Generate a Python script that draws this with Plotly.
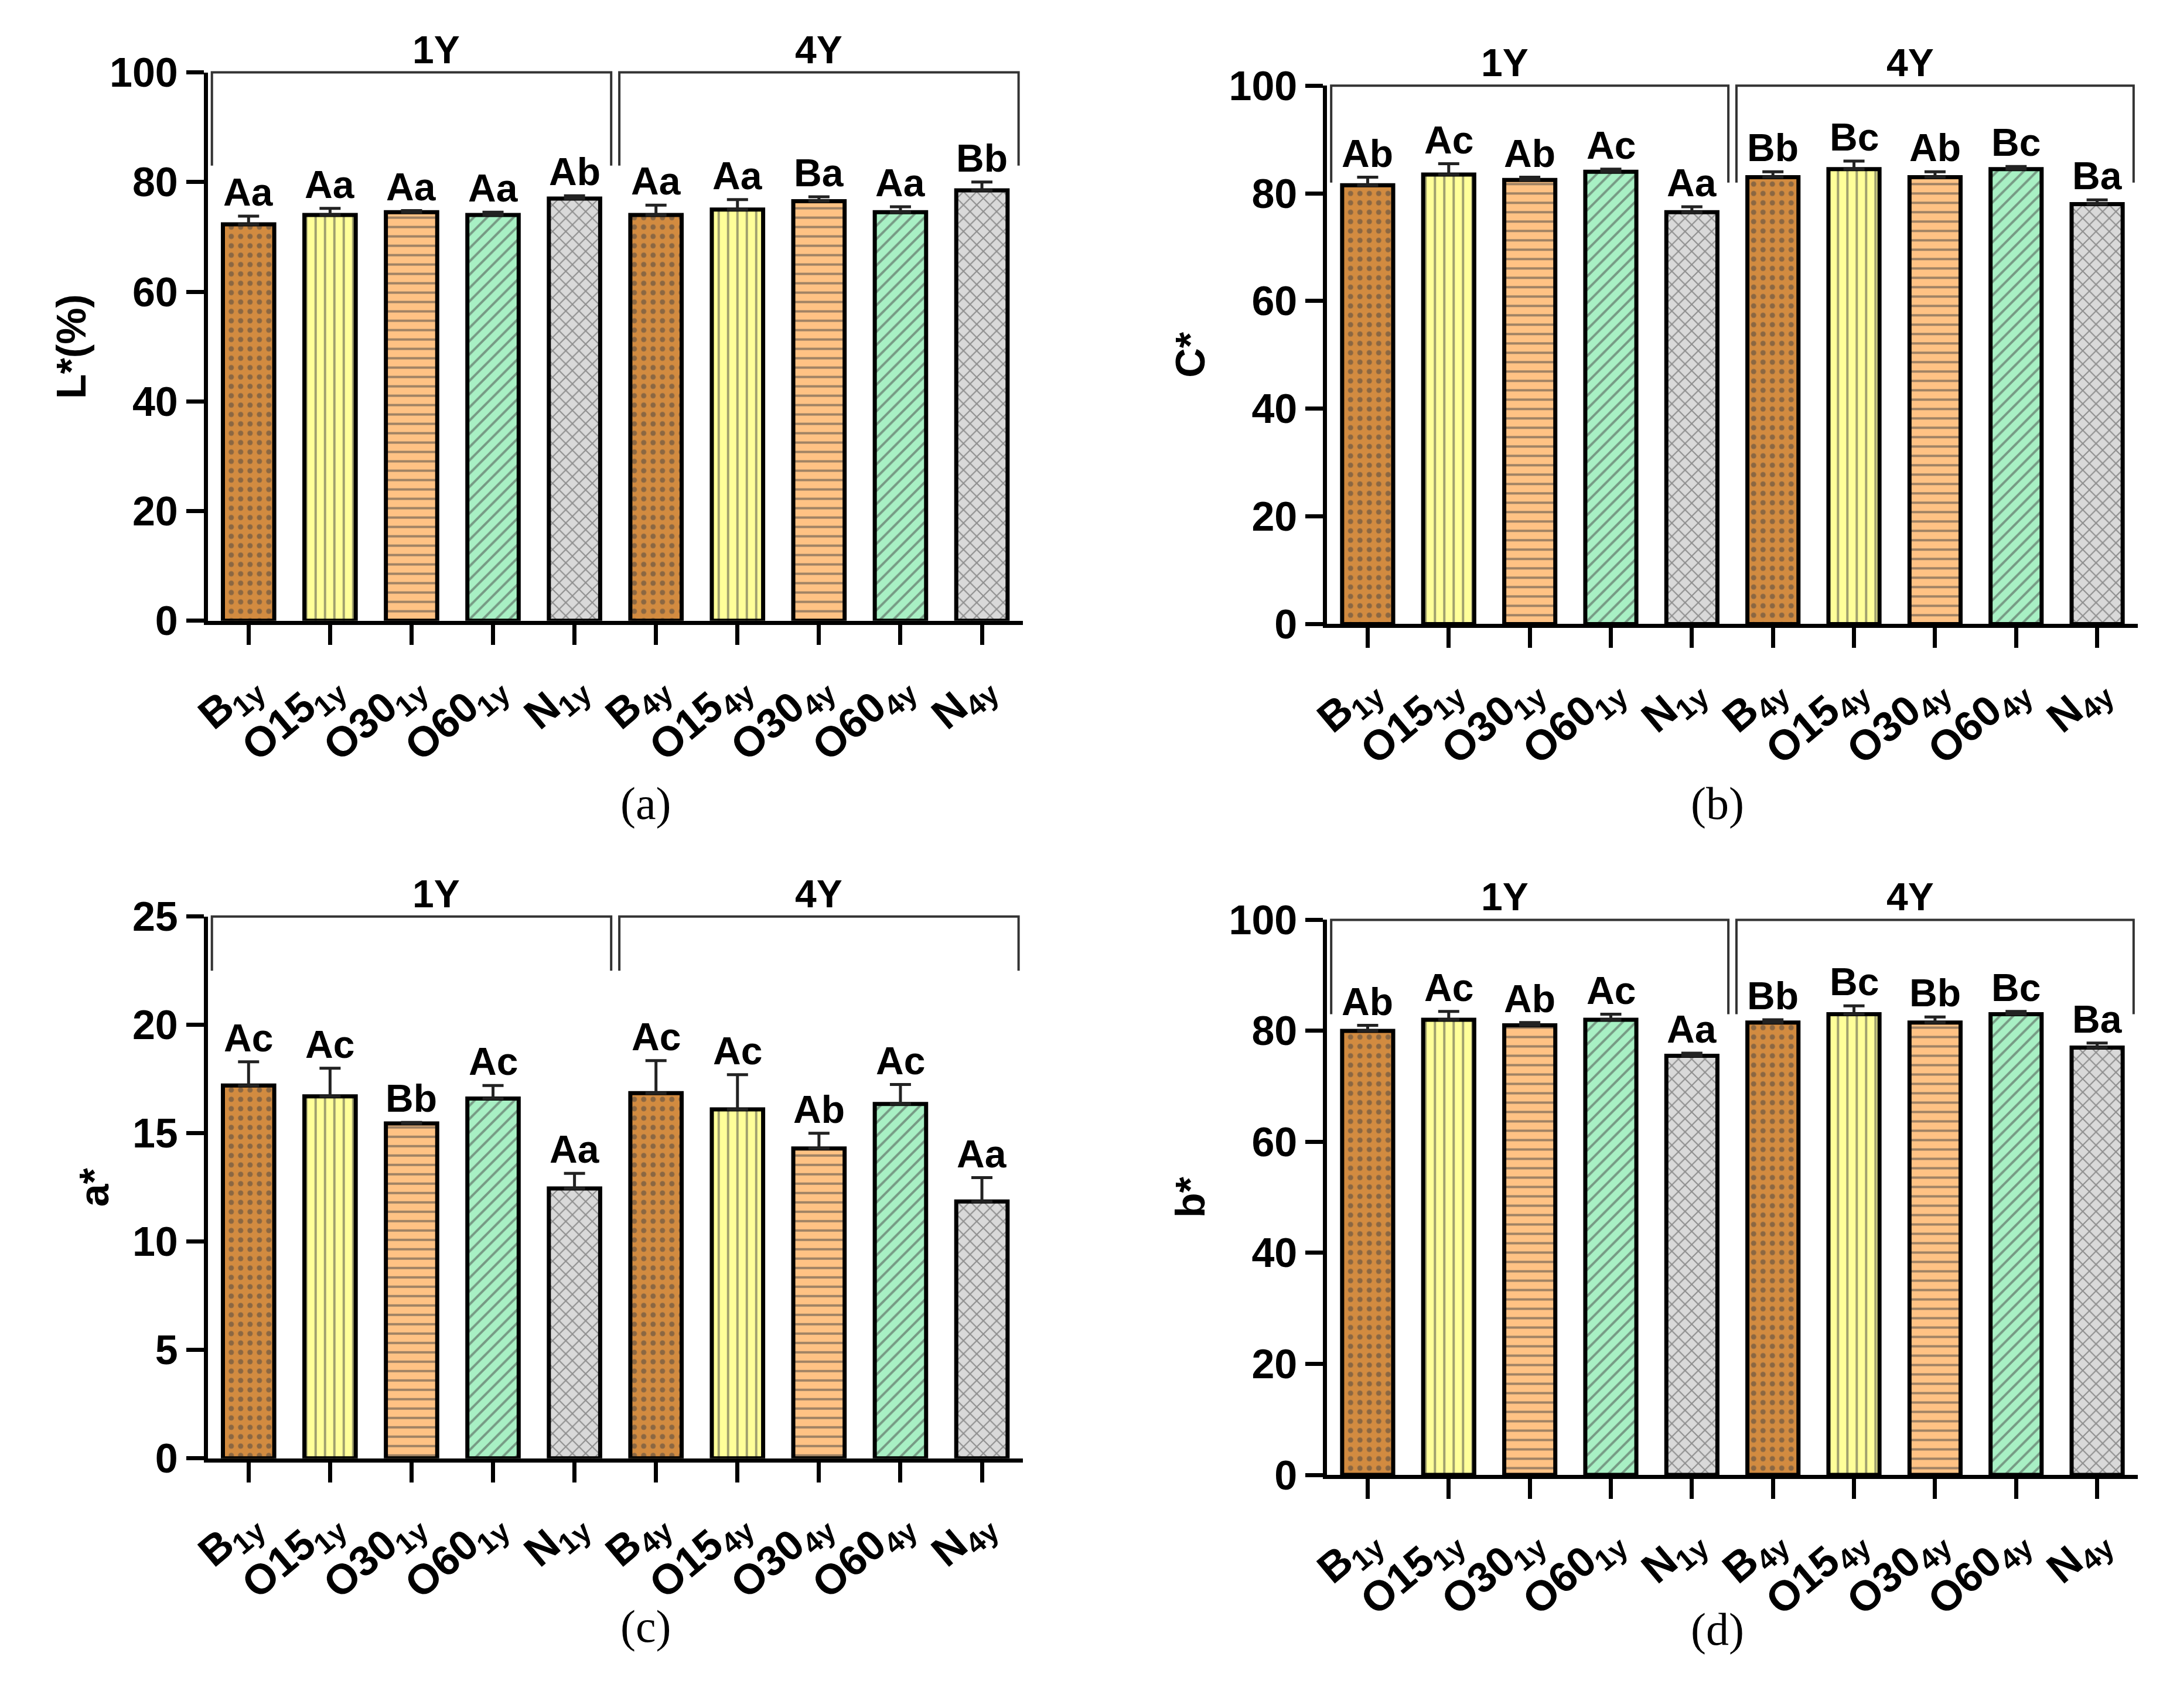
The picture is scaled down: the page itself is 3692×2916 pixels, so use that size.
import plotly.graph_objects as go

categories = ["B<sub>1y</sub>", "O15<sub>1y</sub>", "O30<sub>1y</sub>", "O60<sub>1y</sub>", "N<sub>1y</sub>",
              "B<sub>4y</sub>", "O15<sub>4y</sub>", "O30<sub>4y</sub>", "O60<sub>4y</sub>", "N<sub>4y</sub>"]
L_vals = [72.3, 74.0, 74.5, 74.0, 77.0, 74.0, 75.0, 76.5, 74.5, 78.5]
L_err = [1.5, 1.2, 0.3, 0.5, 0.5, 1.8, 1.8, 0.8, 1.0, 1.5]
L_let = ["Aa", "Aa", "Aa", "Aa", "Ab", "Aa", "Aa", "Ba", "Aa", "Bb"]
C_vals = [81.5, 83.5, 82.5, 84.0, 76.5, 83.0, 84.5, 83.0, 84.5, 78.0]
C_err = [1.5, 2.0, 0.5, 0.5, 1.0, 1.0, 1.5, 1.0, 0.5, 0.8]
C_let = ["Ab", "Ac", "Ab", "Ac", "Aa", "Bb", "Bc", "Ab", "Bc", "Ba"]
a_vals = [17.2, 16.7, 15.45, 16.6, 12.45, 16.85, 16.1, 14.3, 16.35, 11.85]
a_err = [1.1, 1.3, 0.05, 0.6, 0.7, 1.5, 1.6, 0.7, 0.9, 1.1]
a_let = ["Ac", "Ac", "Bb", "Ac", "Aa", "Ac", "Ac", "Ab", "Ac", "Aa"]
b_vals = [80.0, 82.0, 81.0, 82.0, 75.5, 81.5, 83.0, 81.5, 83.0, 77.0]
b_err = [1.0, 1.5, 0.5, 1.0, 0.5, 0.5, 1.5, 1.0, 0.5, 0.8]
b_let = ["Ab", "Ac", "Ab", "Ac", "Aa", "Bb", "Bc", "Bb", "Bc", "Ba"]

fills = ["#D28B40", "#FFFF99", "#FFC284", "#A8F0C4", "#D9D9D9"] * 2
pshapes = [".", "|", "-", "/", "x"] * 2
pcolors = ["#6b4a20", "#555555", "#222222", "#777777", "#777777"] * 2

panels = [
    dict(vals=L_vals, err=L_err, let=L_let, title="L*(%)", rng=[0, 100], dt=20,
         xd=[0.086, 0.466], yd=[0.643, 0.973], btop=100, bdrop=83, cap="(a)", cx=0.278, cy=0.533),
    dict(vals=C_vals, err=C_err, let=C_let, title="C*", rng=[0, 100], dt=20,
         xd=[0.608, 0.986], yd=[0.641, 0.965], btop=100, bdrop=82, cap="(b)", cx=0.803, cy=0.533),
    dict(vals=a_vals, err=a_err, let=a_let, title="a*", rng=[0, 25], dt=5,
         xd=[0.086, 0.466], yd=[0.139, 0.465], btop=25, bdrop=22.5, cap="(c)", cx=0.278, cy=0.022),
    dict(vals=b_vals, err=b_err, let=b_let, title="b*", rng=[0, 100], dt=20,
         xd=[0.608, 0.986], yd=[0.129, 0.463], btop=100, bdrop=83, cap="(d)", cx=0.803, cy=0.02),
]

fig = go.Figure()
FONT = "Liberation Sans"
shapes, annots = [], []
xr = [-0.5, 9.5]
for i, p in enumerate(panels):
    n = "" if i == 0 else str(i + 1)
    fig.add_trace(go.Bar(
        x=categories, y=p["vals"], xaxis="x" + n, yaxis="y" + n,
        marker=dict(color=fills, line=dict(color="black", width=7),
                    pattern=dict(shape=pshapes, fgcolor=pcolors, size=16, solidity=0.25)),
        error_y=dict(type="data", array=p["err"], arrayminus=[0] * 10, symmetric=False,
                     color="#222", thickness=5, width=18),
        showlegend=False, cliponaxis=False))
    for j, (v, e, t) in enumerate(zip(p["vals"], p["err"], p["let"])):
        annots.append(dict(x=categories[j], y=v + e, xref="x" + n, yref="y" + n, text="<b>" + t + "</b>",
                           showarrow=False, yanchor="bottom", yshift=2,
                           font=dict(family=FONT, size=66, color="black")))
    ax = dict(domain=p["xd"], range=xr, showline=True, linewidth=7, linecolor="black",
              ticks="outside", ticklen=34, tickwidth=7, tickcolor="black", tickangle=-40,
              tickfont=dict(family=FONT, size=72, color="black", weight="bold"), anchor="y" + n,
              showgrid=False, type="category")
    ay = dict(domain=p["yd"], range=p["rng"], dtick=p["dt"], showline=True, linewidth=7,
              linecolor="black", ticks="outside", ticklen=30, tickwidth=7, tickcolor="black",
              tickfont=dict(family=FONT, size=70, color="black", weight="bold"), anchor="x" + n, showgrid=False,
              zeroline=False, title=dict(text="<b>" + p["title"] + "</b>", font=dict(family=FONT, size=70, color="black"), standoff=20))
    fig.update_layout(**{"xaxis" + n: ax, "yaxis" + n: ay})

    def px(x, p=p):
        return p["xd"][0] + (x - xr[0]) / (xr[1] - xr[0]) * (p["xd"][1] - p["xd"][0])

    def py(y, p=p):
        return p["yd"][0] + (y - p["rng"][0]) / (p["rng"][1] - p["rng"][0]) * (p["yd"][1] - p["yd"][0])

    top, drop = py(p["btop"]), py(p["bdrop"])
    for (x0, x1), lab, lx in [((-0.45, 4.45), "1Y", 2), ((4.55, 9.45), "4Y", 7)]:
        path = f"M {px(x0)},{drop} L {px(x0)},{top} L {px(x1)},{top} L {px(x1)},{drop}"
        shapes.append(dict(type="path", path=path, xref="paper", yref="paper",
                           line=dict(color="#333", width=4)))
        annots.append(dict(x=px(lx), y=top, xref="paper", yref="paper", text="<b>" + lab + "</b>",
                           showarrow=False, yanchor="bottom", yshift=0,
                           font=dict(family=FONT, size=66, color="black")))
    annots.append(dict(x=p["cx"], y=p["cy"], xref="paper", yref="paper", text=p["cap"], showarrow=False,
                       font=dict(family="Liberation Serif", size=78, color="black")))

fig.update_layout(width=3692, height=2916, margin=dict(l=0, r=0, t=0, b=0),
                  plot_bgcolor="white", paper_bgcolor="white", bargap=0.37,
                  shapes=shapes, annotations=annots)
fig.write_html("out.html")
